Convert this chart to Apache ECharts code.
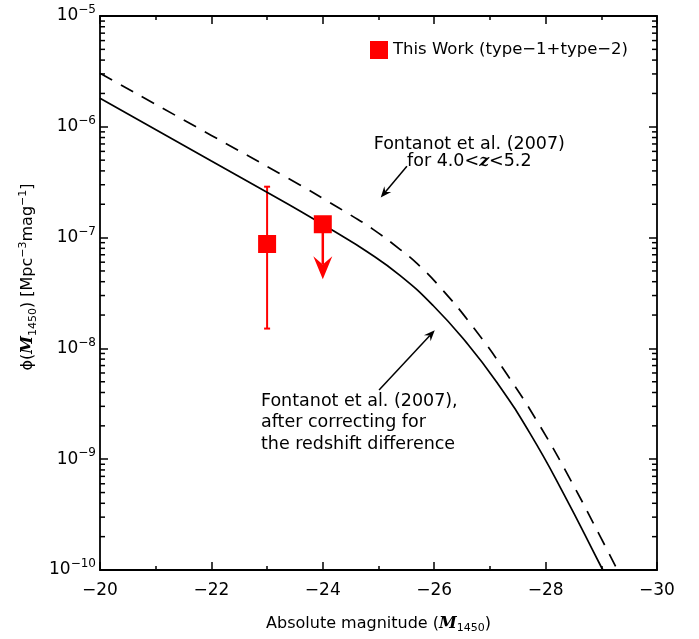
<!DOCTYPE html>
<html>
<head>
<meta charset="utf-8">
<script src="https://cdn.jsdelivr.net/npm/echarts@6/dist/echarts.min.js"></script>
<style>
  html, body { margin: 0; padding: 0; background: #fff; }
  #chart { width: 699px; height: 639px; }
</style>
</head>
<body>
<div id="chart"></div>
<script>
// Fontanot et al. (2007), 4.0<z<5.2 (dashed)
const fontanotMag = [-20, -22, -23.59, -24.01, -24.49, -24.91, -25.39, -25.69, -26.10, -26.70, -27.30, -27.90, -28.44, -28.98, -29.29];
const fontanotPhi = [3.04e-6, 8.36e-7, 2.99e-7, 2.24e-7, 1.607e-7, 1.180e-7, 7.80e-8, 5.85e-8, 3.60e-8, 1.553e-8, 5.90e-9, 1.99e-9, 6.61e-10, 2.01e-10, 1.0e-10];

// Fontanot et al. (2007) corrected for redshift difference (solid)
const correctedMag = [-20, -22, -22.99, -23.59, -24.19, -24.79, -25.39, -25.98, -26.58, -27.12, -27.72, -28.32, -28.99, -29.03];
const correctedPhi = [1.807e-6, 4.91e-7, 2.58e-7, 1.740e-7, 1.151e-7, 7.50e-8, 4.54e-8, 2.44e-8, 1.127e-8, 4.98e-9, 1.71e-9, 4.92e-10, 1.087e-10, 1.0e-10];

// This Work (type-1+type-2)
const thisWorkMag = [-23, -24];
const thisWorkPhi = [8.75e-8, 1.32e-7];
const errMag = [-23];
const errLow = [1.51e-8];
const errHigh = [2.88e-7];
const limitMag = [-24];
const limitTo = [4.2e-8];

const legendName = 'This Work (type\u22121+type\u22122)';
const FONT = 'DejaVu Sans';

function richStyles(size) {
    return {
        t: { fontFamily: FONT, fontSize: size, color: '#000' },
        m: { fontFamily: 'DejaVu Serif', fontSize: size, fontWeight: 'bold', fontStyle: 'italic', color: '#000' },
        s: { fontFamily: FONT, fontSize: 11, color: '#000', padding: [9, 0, 0, 0] },
        p: { fontFamily: FONT, fontSize: 11, color: '#000', padding: [0, 0, 10, 0] }
    };
}

// annotations, in data coordinates
const annArrows = [
    { from: [-25.51, 4.41e-7], to: [-25.04, 2.30e-7] },
    { from: [-25.01, 4.21e-9], to: [-26.01, 1.46e-8] }
];
const annTexts = [
    { at: [-26.63, 5.8e-7], align: 'center', lh: 17,
      text: '{t|Fontanot et al. (2007)}\n{t|for 4.0<}{m|z}{t|<5.2}' },
    { at: [-22.89, 2.13e-9], align: 'left', lh: 21.8,
      text: '{t|Fontanot et al. (2007),}\n{t|after correcting for}\n{t|the redshift difference}' }
];

// log minor tick values
const minorVals = [];
for (let e = -10; e < -5; e++) {
    for (let m = 2; m <= 9; m++) minorVals.push(m * Math.pow(10, e));
}

function arrowShapes(p0, p1, len, wid, color, lw) {
    const a = Math.atan2(p1[1] - p0[1], p1[0] - p0[0]);
    const c = Math.cos(a), s = Math.sin(a);
    const back = [p1[0] - c * len, p1[1] - s * len];
    const notch = [p1[0] - c * len * 0.65, p1[1] - s * len * 0.65];
    return [
        { type: 'line', shape: { x1: p0[0], y1: p0[1], x2: notch[0], y2: notch[1] },
          style: { stroke: color, lineWidth: lw } },
        { type: 'polygon', shape: { points: [
            [p1[0], p1[1]],
            [back[0] - s * wid, back[1] + c * wid],
            notch,
            [back[0] + s * wid, back[1] - c * wid]
        ] }, style: { fill: color } }
    ];
}

const chart = echarts.init(document.getElementById('chart'));

const logAxisBase = {
    type: 'log',
    logBase: 10,
    min: 1e-10,
    max: 1e-5,
    splitLine: { show: false },
    axisLine: { show: true, lineStyle: { color: '#000', width: 1.8 } },
    axisTick: { show: true, inside: true, length: 8, lineStyle: { color: '#000', width: 1.5 } }
};
const magAxisBase = {
    type: 'value',
    inverse: true,
    min: -30,
    max: -20,
    interval: 2,
    splitLine: { show: false },
    axisLine: { show: true, onZero: false, lineStyle: { color: '#000', width: 1.8 } },
    axisTick: { show: true, inside: true, length: 8, lineStyle: { color: '#000', width: 1.5 } },
    minorTick: { show: true, splitNumber: 2, length: 4, lineStyle: { color: '#000', width: 1.5 } }
};

chart.setOption({
    animation: false,
    backgroundColor: '#fff',
    grid: { left: 100, right: 42, top: 16, bottom: 66 },
    legend: {
        left: 365,
        top: 36,
        itemWidth: 18,
        itemHeight: 18,
        itemGap: 5,
        data: [{ name: legendName, icon: 'rect', itemStyle: { color: '#ff0000', opacity: 1 } }],
        textStyle: { fontFamily: FONT, fontSize: 16.5, color: '#000' }
    },
    xAxis: [
        Object.assign({}, magAxisBase, {
            position: 'bottom',
            axisLabel: {
                margin: 12,
                fontFamily: FONT,
                fontSize: 17,
                color: '#000',
                formatter: v => (v < 0 ? '\u2212' : '') + Math.abs(v)
            },
            name: '{t|Absolute magnitude (}{m|M}{s|1450}{t|)}',
            nameLocation: 'middle',
            nameGap: 44,
            nameTextStyle: { rich: richStyles(16) }
        }),
        Object.assign({}, magAxisBase, { position: 'top', axisLabel: { show: false } })
    ],
    yAxis: [
        Object.assign({}, logAxisBase, {
            position: 'left',
            axisLabel: {
                margin: 4,
                formatter: v => '{b|10}{p|\u2212' + Math.abs(Math.round(Math.log10(v))) + '}',
                rich: {
                    b: { fontFamily: FONT, fontSize: 17, color: '#000' },
                    p: { fontFamily: FONT, fontSize: 12, color: '#000', padding: [0, 0, 12, 0] }
                }
            },
            name: '{t|\u03D5(}{m|M}{s|1450}{t|) [Mpc}{p|\u22123}{t|mag}{p|\u22121}{t|]}',
            nameLocation: 'middle',
            nameRotate: 90,
            nameGap: 53,
            nameTextStyle: { rich: richStyles(16), padding: [0, 0, 0, 32] }
        }),
        Object.assign({}, logAxisBase, { position: 'right', axisLabel: { show: false } })
    ],
    series: [
        {
            name: 'fontanot',
            type: 'line',
            data: fontanotMag.map((m, i) => [m, fontanotPhi[i]]),
            symbol: 'none',
            smooth: 0.5,
            lineStyle: { color: '#000', width: 1.7, type: [14, 10] },
            silent: true
        },
        {
            name: 'corrected',
            type: 'line',
            data: correctedMag.map((m, i) => [m, correctedPhi[i]]),
            symbol: 'none',
            smooth: 0.5,
            lineStyle: { color: '#000', width: 1.7 },
            silent: true
        },
        {
            name: 'errorbar',
            type: 'custom',
            silent: true,
            data: errMag.map((m, i) => [m, errLow[i], errHigh[i]]),
            renderItem: (params, api) => {
                const lo = api.coord([api.value(0), api.value(1)]);
                const hi = api.coord([api.value(0), api.value(2)]);
                const cw = 3;
                const st = { stroke: '#ff0000', lineWidth: 2 };
                return { type: 'group', children: [
                    { type: 'line', shape: { x1: lo[0], y1: lo[1], x2: hi[0], y2: hi[1] }, style: st },
                    { type: 'line', shape: { x1: lo[0] - cw, y1: lo[1], x2: lo[0] + cw, y2: lo[1] }, style: st },
                    { type: 'line', shape: { x1: hi[0] - cw, y1: hi[1], x2: hi[0] + cw, y2: hi[1] }, style: st }
                ] };
            }
        },
        {
            name: 'upperlimit',
            type: 'custom',
            silent: true,
            data: limitMag.map((m, i) => [m, thisWorkPhi[thisWorkMag.indexOf(m)], limitTo[i]]),
            renderItem: (params, api) => {
                const p0 = api.coord([api.value(0), api.value(1)]);
                const p1 = api.coord([api.value(0), api.value(2)]);
                return { type: 'group', children: arrowShapes(p0, p1, 23, 9.5, '#ff0000', 2.5) };
            }
        },
        {
            name: legendName,
            type: 'scatter',
            data: thisWorkMag.map((m, i) => [m, thisWorkPhi[i]]),
            symbol: 'rect',
            symbolSize: 18,
            itemStyle: { color: '#ff0000', opacity: 1 },
            z: 5,
            silent: true
        },
        {
            name: 'minorticks',
            type: 'custom',
            silent: true,
            data: minorVals.map(v => [-20, v]),
            renderItem: (params, api) => {
                const y = api.coord([-20, api.value(1)])[1];
                const xl = api.coord([-20, 1e-7])[0];
                const xr = api.coord([-30, 1e-7])[0];
                const st = { stroke: '#000', lineWidth: 1.5 };
                return { type: 'group', children: [
                    { type: 'line', shape: { x1: xl, y1: y, x2: xl + 5, y2: y }, style: st },
                    { type: 'line', shape: { x1: xr, y1: y, x2: xr - 5, y2: y }, style: st }
                ] };
            }
        },
        {
            name: 'annarrows',
            type: 'custom',
            silent: true,
            data: annArrows.map(a => a.from),
            renderItem: (params, api) => {
                const a = annArrows[params.dataIndex];
                return { type: 'group', children: arrowShapes(api.coord(a.from), api.coord(a.to), 11, 4.5, '#000', 1.5) };
            }
        },
        {
            name: 'anntexts',
            type: 'custom',
            silent: true,
            data: annTexts.map(a => a.at),
            renderItem: (params, api) => {
                const a = annTexts[params.dataIndex];
                const p = api.coord(a.at);
                const rich = richStyles(17.5);
                Object.keys(rich).forEach(k => { rich[k].lineHeight = a.lh; });
                return {
                    type: 'text',
                    x: p[0],
                    y: p[1],
                    style: {
                        text: a.text,
                        rich: rich,
                        align: a.align,
                        verticalAlign: 'middle',
                        fill: '#000'
                    }
                };
            }
        }
    ]
});
</script>
</body>
</html>
